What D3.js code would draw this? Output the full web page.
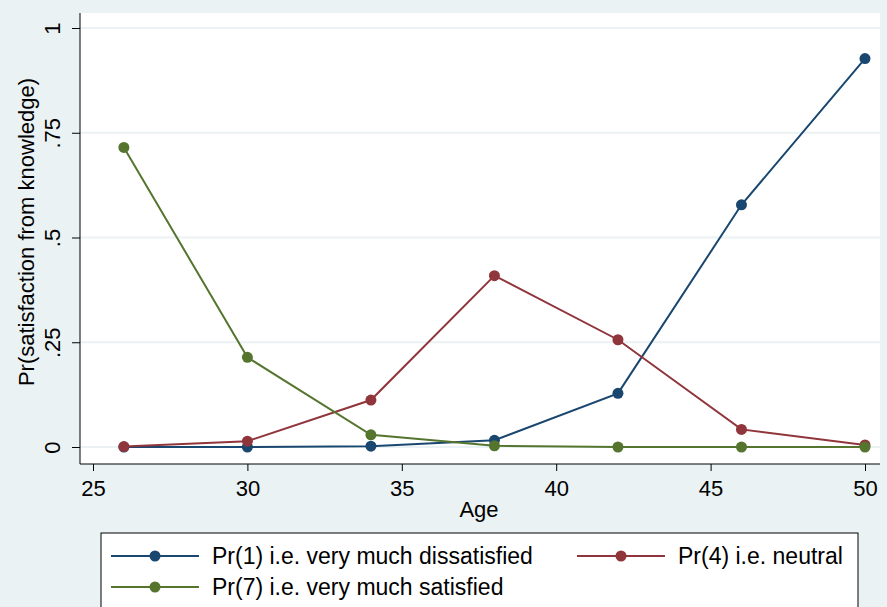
<!DOCTYPE html>
<html>
<head>
<meta charset="utf-8">
<script src="https://cdn.jsdelivr.net/npm/d3@7"></script>
<style>
  body { margin: 0; background: #eaf2f3; }
  svg { display: block; font-family: "Liberation Sans", Arial, sans-serif; }
</style>
</head>
<body>
<svg></svg>
<script>
const width = 887;
const height = 607;

// data
const ages = [26, 30, 34, 38, 42, 46, 50];
const pr1 = [0.000, 0.000, 0.002, 0.016, 0.128, 0.578, 0.927];
const pr4 = [0.001, 0.014, 0.112, 0.409, 0.256, 0.042, 0.005];
const pr7 = [0.715, 0.214, 0.029, 0.003, 0.000, 0.000, 0.000];
const seriesNames = ["Pr(1) i.e. very much dissatisfied", "Pr(4) i.e. neutral", "Pr(7) i.e. very much satisfied"];
const seriesColors = ["#1a476f", "#90353b", "#55752f"];
const xTicks = [25, 30, 35, 40, 45, 50];
const yTicks = [0, 0.25, 0.5, 0.75, 1];
const yTickLabels = ["0", ".25", ".5", ".75", "1"];

const series = [pr1, pr4, pr7].map((vals, i) => ({
    name: seriesNames[i],
    color: seriesColors[i],
    values: vals.map((v, j) => ({x: ages[j], y: v}))
}));

let svg = d3.select("svg")
    .attr("width", width)
    .attr("height", height);

svg.append("rect")
    .attr("width", width)
    .attr("height", height)
    .attr("fill", "#eaf2f3");

// plot region
const plot = {left: 80, right: 880, top: 13, bottom: 464};
svg.append("rect")
    .attr("x", plot.left)
    .attr("y", plot.top)
    .attr("width", plot.right - plot.left)
    .attr("height", plot.bottom - plot.top)
    .attr("fill", "#ffffff");

let scaleX = d3.scaleLinear().domain([25, 50]).range([93, 865]);
let scaleY = d3.scaleLinear().domain([0, 1]).range([447, 28]);

// gridlines
svg.append("g")
    .selectAll("line")
    .data(yTicks)
    .enter()
    .append("line")
    .attr("x1", plot.left)
    .attr("x2", plot.right)
    .attr("y1", d => scaleY(d))
    .attr("y2", d => scaleY(d))
    .attr("stroke", "#eaf2f3")
    .attr("stroke-width", 2);

// axes
let axisY = d3.axisLeft(scaleY)
    .tickValues(yTicks)
    .tickFormat((d, i) => yTickLabels[i])
    .tickSize(8);
let gy = svg.append("g")
    .attr("transform", `translate(${plot.left},0)`)
    .call(axisY);
gy.select(".domain").attr("d", `M0,${plot.top}V${plot.bottom}`).attr("stroke", "#000");
gy.selectAll(".tick line").attr("stroke", "#000");
gy.selectAll(".tick text")
    .attr("font-size", 22)
    .attr("fill", "#000")
    .attr("text-anchor", "middle")
    .attr("dy", null)
    .attr("x", null)
    .attr("transform", "translate(-20,0) rotate(-90)");

let axisX = d3.axisBottom(scaleX)
    .tickValues(xTicks)
    .tickSize(7)
    .tickPadding(9);
let gx = svg.append("g")
    .attr("transform", `translate(0,${plot.bottom})`)
    .call(axisX);
gx.select(".domain").attr("d", `M${plot.left},0H${plot.right}`).attr("stroke", "#000");
gx.selectAll(".tick line").attr("stroke", "#000");
gx.selectAll(".tick text").attr("font-size", 22).attr("fill", "#000");

// axis titles
svg.append("text")
    .attr("x", (scaleX(25) + scaleX(50)) / 2)
    .attr("y", 517)
    .attr("text-anchor", "middle")
    .attr("font-size", 22)
    .text("Age");

svg.append("text")
    .attr("transform", `translate(34,232) rotate(-90)`)
    .attr("text-anchor", "middle")
    .attr("font-size", 22)
    .text("Pr(satisfaction from knowledge)");

// lines and markers
let lineXY = d3.line()
    .x(d => scaleX(d.x))
    .y(d => scaleY(d.y));

let groups = svg.selectAll("g.series")
    .data(series)
    .enter()
    .append("g")
    .attr("class", "series");

groups.append("path")
    .attr("d", d => lineXY(d.values))
    .attr("fill", "none")
    .attr("stroke", d => d.color)
    .attr("stroke-width", 2);

groups.selectAll("circle")
    .data(d => d.values.map(v => ({...v, color: d.color})))
    .enter()
    .append("circle")
    .attr("cx", d => scaleX(d.x))
    .attr("cy", d => scaleY(d.y))
    .attr("r", 5.5)
    .attr("fill", d => d.color);

// legend
const legend = svg.append("g");
legend.append("rect")
    .attr("x", 101)
    .attr("y", 533)
    .attr("width", 757)
    .attr("height", 90)
    .attr("fill", "#ffffff")
    .attr("stroke", "#000")
    .attr("stroke-width", 1);

const legendPos = [[111, 556], [577, 556], [111, 587]];
let items = legend.selectAll("g.item")
    .data(series)
    .enter()
    .append("g")
    .attr("transform", (d, i) => `translate(${legendPos[i][0]},${legendPos[i][1]})`);
items.append("line")
    .attr("x1", 0).attr("x2", 88)
    .attr("stroke", d => d.color)
    .attr("stroke-width", 2);
items.append("circle")
    .attr("cx", 44)
    .attr("r", 5.5)
    .attr("fill", d => d.color);
items.append("text")
    .attr("x", 101)
    .attr("y", 8)
    .attr("font-size", 23)
    .text(d => d.name);
</script>
</body>
</html>
